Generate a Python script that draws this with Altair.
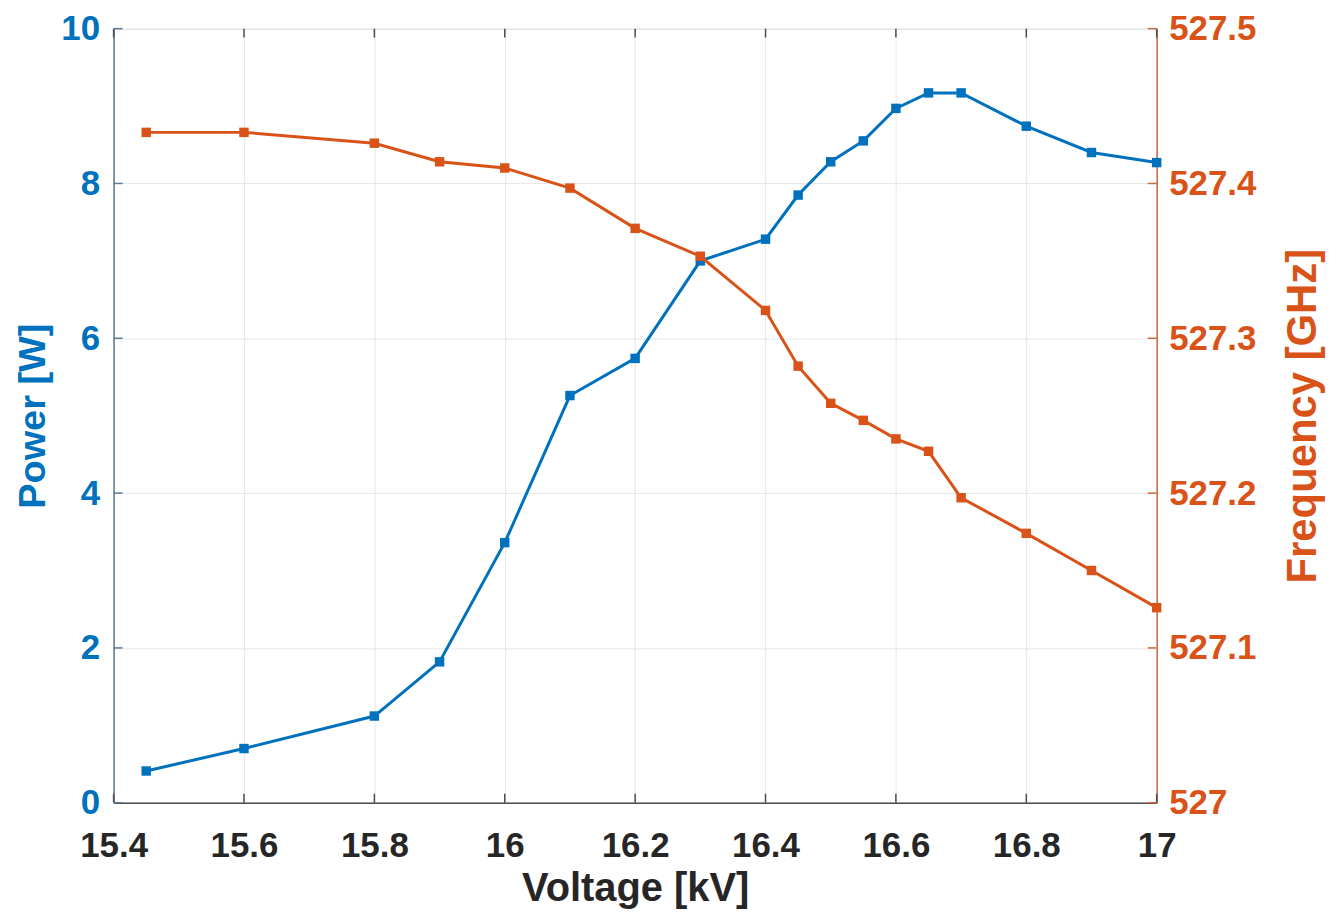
import altair as alt
import pandas as pd

voltage = [15.45, 15.6, 15.8, 15.9, 16.0, 16.1, 16.2, 16.3, 16.4, 16.45, 16.5, 16.55, 16.6, 16.65, 16.7, 16.8, 16.9, 17.0]
power = [0.41, 0.70, 1.12, 1.82, 3.36, 5.26, 5.74, 7.00, 7.28, 7.85, 8.28, 8.55, 8.97, 9.17, 9.17, 8.74, 8.40, 8.27]
frequency = [527.433, 527.433, 527.426, 527.414, 527.410, 527.397, 527.371, 527.353, 527.318, 527.282,
             527.258, 527.247, 527.235, 527.227, 527.197, 527.174, 527.150, 527.126]
x_ticks = [15.4, 15.6, 15.8, 16.0, 16.2, 16.4, 16.6, 16.8, 17.0]
power_ticks = [0, 2, 4, 6, 8, 10]
freq_ticks = [527.0, 527.1, 527.2, 527.3, 527.4, 527.5]

df = pd.DataFrame({"voltage": voltage, "power": power, "frequency": frequency})
xt = pd.DataFrame({"voltage": x_ticks})
pt = pd.DataFrame({"power": power_ticks})
ft = pd.DataFrame({"frequency": freq_ticks})

BLUE = "#0072BD"
ORANGE = "#D95319"
DARK = "#262626"
FONT = "Liberation Sans"
W, H = 1047, 777

x_scale = alt.Scale(domain=[15.4, 17.0], nice=False, zero=False)
p_scale = alt.Scale(domain=[0, 10], nice=False)
f_scale = alt.Scale(domain=[527.0, 527.5], nice=False, zero=False)

x_enc = alt.X("voltage:Q", scale=x_scale,
              axis=alt.Axis(values=x_ticks, format=".1~f", title="Voltage [kV]",
                            labelFontSize=35, labelFontWeight="bold", labelColor=DARK,
                            labelFont=FONT, titleFont=FONT, titleFontSize=40, titleFontWeight="bold",
                            titleColor=DARK, labelPadding=26, titlePadding=5,
                            tickSize=0, domainColor="#4d4d4d", domainWidth=1.5,
                            grid=True, gridColor="#e6e6e6", labelFlush=False))

power_layer = alt.Chart(df).mark_line(
    color=BLUE, strokeWidth=3,
    point=alt.OverlayMarkDef(shape="square", filled=True, size=90, color=BLUE, opacity=1)
).encode(
    x=x_enc,
    y=alt.Y("power:Q", scale=p_scale,
            axis=alt.Axis(values=power_ticks, title="Power [W]", orient="left",
                          labelFontSize=35, labelFontWeight="bold", labelColor=BLUE,
                          labelFont=FONT, titleFont=FONT, titleFontSize=38, titleFontWeight="bold",
                          titleColor=BLUE, labelPadding=14, titlePadding=8,
                          tickSize=0, domainColor="#5b7896", domainWidth=1.5,
                          grid=True, gridColor="#e6e6e6"))
)

freq_layer = alt.Chart(df).mark_line(
    color=ORANGE, strokeWidth=3,
    point=alt.OverlayMarkDef(shape="square", filled=True, size=90, color=ORANGE, opacity=1)
).encode(
    x=alt.X("voltage:Q", scale=x_scale),
    y=alt.Y("frequency:Q", scale=f_scale,
            axis=alt.Axis(values=freq_ticks, format=".1~f", title="Frequency [GHz]", orient="right",
                          labelFontSize=35, labelFontWeight="bold", labelColor=ORANGE,
                          labelFont=FONT, titleFont=FONT, titleFontSize=42, titleFontWeight="bold",
                          titleColor=ORANGE, labelPadding=12, titlePadding=27, titleAngle=270,
                          titleBaseline="top",
                          tickSize=0, domainColor="#c8693f", domainWidth=1.5, grid=False))
)

# inward tick marks (MATLAB style)
xt_bottom = alt.Chart(xt).mark_rule(color="#4d4d4d", strokeWidth=1.5).encode(
    x=alt.X("voltage:Q", scale=x_scale), y=alt.value(H), y2=alt.value(H - 9))
xt_top = alt.Chart(xt).mark_rule(color="#4d4d4d", strokeWidth=1.5).encode(
    x=alt.X("voltage:Q", scale=x_scale), y=alt.value(0), y2=alt.value(9))
pt_left = alt.Chart(pt).mark_rule(color="#5b7896", strokeWidth=1.5).encode(
    y=alt.Y("power:Q", scale=p_scale, axis=None), x=alt.value(0), x2=alt.value(9))
ft_right = alt.Chart(ft).mark_rule(color="#c8693f", strokeWidth=1.5).encode(
    y=alt.Y("frequency:Q", scale=f_scale, axis=None), x=alt.value(W), x2=alt.value(W - 9))

chart = alt.layer(power_layer, freq_layer, xt_bottom, xt_top, pt_left, ft_right).resolve_scale(
    y="independent"
).properties(
    width=W, height=H,
    autosize=alt.AutoSizeParams(type="none"),
    padding={"left": 106, "top": 19, "right": 180, "bottom": 120},
).configure_view(stroke="#808080", strokeWidth=1.5).configure(background="white")

chart.save("out.html", embed_options={"renderer": "svg", "actions": False})
